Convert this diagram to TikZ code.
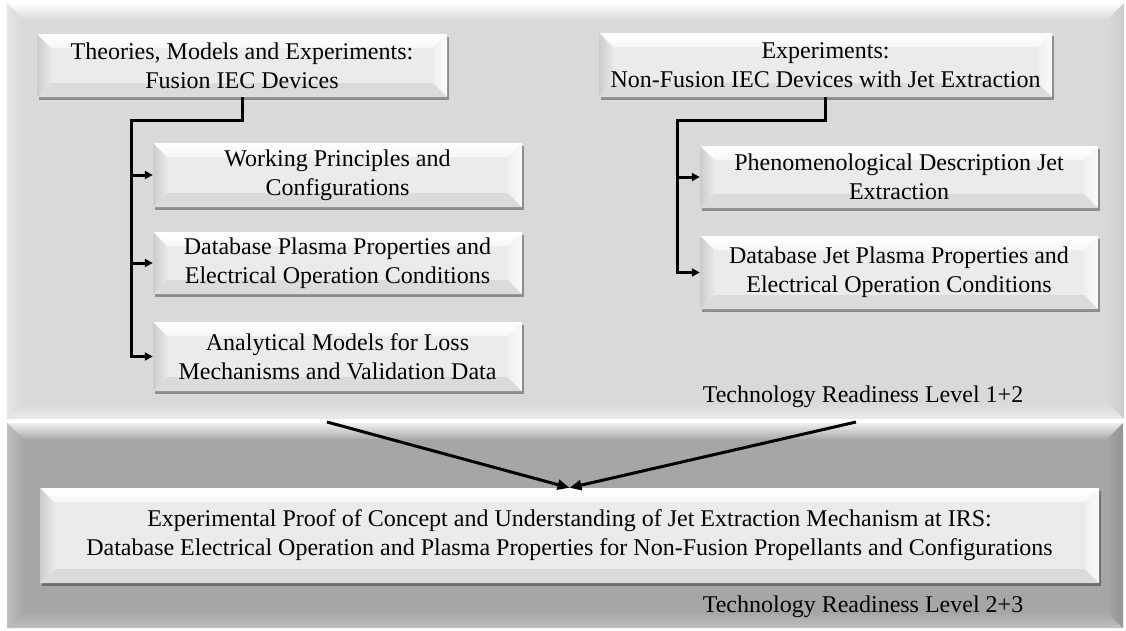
\documentclass[tikz,border=0pt]{standalone}
\usepackage{fontspec}
\setmainfont{Liberation Serif}
\usetikzlibrary{arrows.meta,shadows}

\definecolor{boxface}{HTML}{EBEBEB}
\definecolor{upperface}{HTML}{D9D9D9}
\definecolor{lowerface}{HTML}{A6A6A6}

\tikzset{
  % bevelled rectangle: four trapezoids painted inside the node border
  bv size/.store in=\bvsize, bv size=14pt,
  bv t/.style={fill=white},
  bv l/.style={fill=gray},
  bv r/.style={fill=gray},
  bv b/.style={fill=gray},
  bevelled/.style={path picture={
    \coordinate (bvNW) at (path picture bounding box.north west);
    \coordinate (bvNE) at (path picture bounding box.north east);
    \coordinate (bvSW) at (path picture bounding box.south west);
    \coordinate (bvSE) at (path picture bounding box.south east);
    \coordinate (bvnw) at ([xshift=\bvsize,yshift=-\bvsize]bvNW);
    \coordinate (bvne) at ([xshift=-\bvsize,yshift=-\bvsize]bvNE);
    \coordinate (bvsw) at ([xshift=\bvsize,yshift=\bvsize]bvSW);
    \coordinate (bvse) at ([xshift=-\bvsize,yshift=\bvsize]bvSE);
    \path[bv t] (bvNW) -- (bvNE) -- (bvne) -- (bvnw) -- cycle;
    \path[bv b] (bvSW) -- (bvSE) -- (bvse) -- (bvsw) -- cycle;
    \path[bv l] (bvNW) -- (bvnw) -- (bvsw) -- (bvSW) -- cycle;
    \path[bv r] (bvNE) -- (bvne) -- (bvse) -- (bvSE) -- cycle;
  }},
  txt/.style={font=\fontsize{24}{29}\selectfont, align=center},
  card/.style={txt, bevelled, fill=boxface, inner sep=0pt, bv size=14pt,
    drop shadow={shadow xshift=2pt, shadow yshift=-2.5pt, fill=black, opacity=0.35},
    bv t/.style={top color=white, bottom color=black!3},
    bv l/.style={left color=black!20, right color=black!9},
    bv r/.style={left color=black!6, right color=black!2},
    bv b/.style={fill=black!14}},
  upperpanel/.style={bevelled, fill=upperface, inner sep=0pt, bv size=16pt,
    bv t/.style={top color=white, bottom color=black!14},
    bv l/.style={left color=black!10, right color=black!15},
    bv r/.style={left color=black!15, right color=black!20},
    bv b/.style={top color=black!15, bottom color=black!8}},
  lowerpanel/.style={bevelled, fill=lowerface, inner sep=0pt, bv size=16pt,
    bv t/.style={top color=black!6, bottom color=black!33},
    bv l/.style={left color=black!25, right color=black!34},
    bv r/.style={left color=black!35, right color=black!42},
    bv b/.style={top color=black!35, bottom color=black!25}},
  conn/.style={line width=3pt, -{Triangle[length=8pt,width=8pt]}},
  bigconn/.style={line width=3pt, -{Triangle[length=12pt,width=10pt]}},
}

\begin{document}
\begin{tikzpicture}[x=1pt,y=-1pt]
  \useasboundingbox (0,0) rectangle (1126,630);
  \fill[white] (0,0) rectangle (1126,630);

  % two level panels
  \node[upperpanel, minimum width=1117pt, minimum height=416pt] (upper) at (565.5,211) {};
  \node[lowerpanel, minimum width=1116pt, minimum height=205pt] (lower) at (565,525.5) {};

  % fusion column
  \node[card, minimum width=410pt, minimum height=63pt] (tl) at (242,65.5)
    {Theories, Models and Experiments:\\Fusion IEC Devices};
  \node[card, minimum width=369pt, minimum height=64pt] (l1) at (337.5,175)
    {Working Principles and\\Configurations};
  \node[card, minimum width=369pt, minimum height=62pt] (l2) at (337.5,263)
    {Database Plasma Properties and\\Electrical Operation Conditions};
  \node[card, minimum width=369pt, minimum height=69pt] (l3) at (337.5,356.5)
    {Analytical Models for Loss\\Mechanisms and Validation Data};

  % non-fusion column
  \node[card, minimum width=453pt, minimum height=64pt] (tr) at (825.5,65)
    {Experiments:\\Non-Fusion IEC Devices with Jet Extraction};
  \node[card, minimum width=398pt, minimum height=62pt] (r1) at (899,177)
    {Phenomenological Description Jet\\Extraction};
  \node[card, minimum width=398pt, minimum height=73pt] (r2) at (899,272.5)
    {Database Jet Plasma Properties and\\Electrical Operation Conditions};

  % joint result
  \node[card, minimum width=1059pt, minimum height=95pt] (bot) at (569.5,535.5)
    {Experimental Proof of Concept and Understanding of Jet Extraction Mechanism at IRS:\\
     Database Electrical Operation and Plasma Properties for Non-Fusion Propellants and Configurations};

  \node[txt] (trlA) at (863,397) {Technology Readiness Level 1+2};
  \node[txt] (trlB) at (863,607) {Technology Readiness Level 2+3};

  % tree connectors
  \coordinate (lbus) at (131,120);
  \draw[conn] (tl.south) |- (lbus) |- (l3.west);
  \draw[conn] (lbus |- l1.west) -- (l1.west);
  \draw[conn] (lbus |- l2.west) -- (l2.west);

  \coordinate (rbus) at (677,120);
  \draw[conn] (tr.south) |- (rbus) |- (r2.west);
  \draw[conn] (rbus |- r1.west) -- (r1.west);

  % merge into the lower level
  \coordinate (srcA) at (327,422);
  \coordinate (srcB) at (856,422);
  \draw[bigconn] (srcA) -- (bot.north);
  \draw[bigconn] (srcB) -- (bot.north);
\end{tikzpicture}
\end{document}
